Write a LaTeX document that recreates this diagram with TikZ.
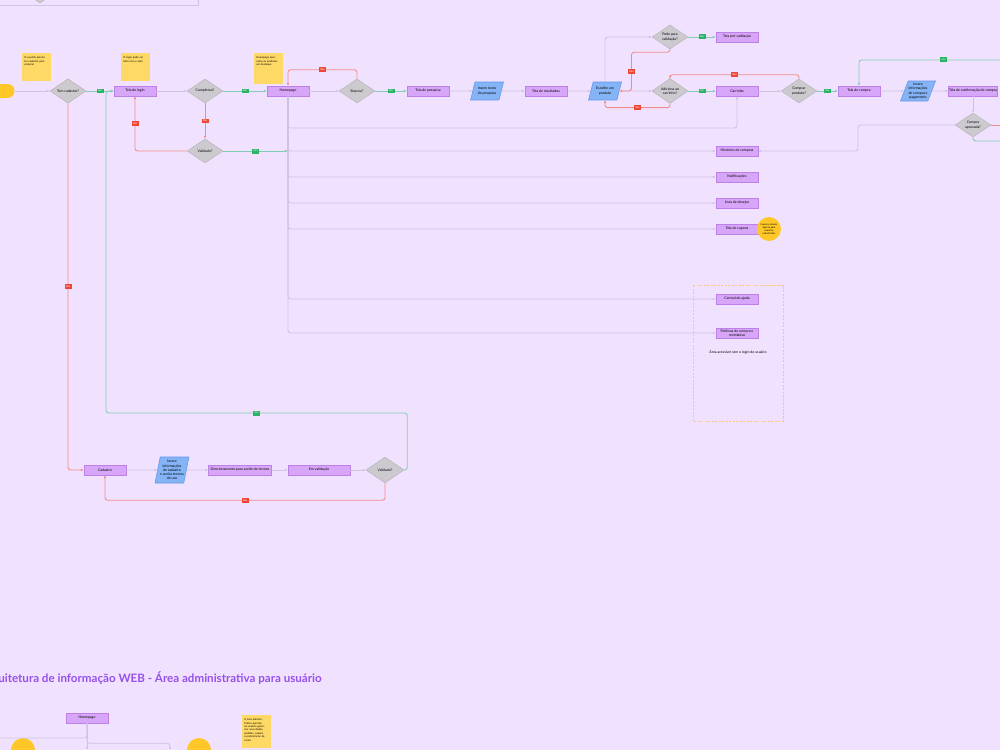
\documentclass[tikz,border=0pt]{standalone}
\usepackage{fontspec}
\setmainfont{Lato}
\usetikzlibrary{arrows.meta,shapes.geometric}
\definecolor{bgviolet}{RGB}{240,226,254}
\definecolor{boxviolet}{RGB}{216,166,248}
\definecolor{boxedge}{RGB}{188,128,232}
\definecolor{diagray}{RGB}{204,202,206}
\definecolor{diaedge}{RGB}{184,182,188}
\definecolor{inblue}{RGB}{132,180,246}
\definecolor{inedge}{RGB}{98,148,232}
\definecolor{noteyellow}{RGB}{255,217,102}
\definecolor{dotyellow}{RGB}{255,200,40}
\definecolor{linegray}{RGB}{204,196,224}
\definecolor{okgreen}{RGB}{40,180,100}
\definecolor{okline}{RGB}{130,205,180}
\definecolor{nored}{RGB}{238,70,50}
\definecolor{noline}{RGB}{240,140,140}
\definecolor{framegold}{RGB}{250,200,130}
\definecolor{titlepurple}{RGB}{150,80,235}
\newcommand{\boxfont}{\fontsize{2}{2.4}\selectfont}
\newcommand{\tagfont}{\fontsize{1.4}{1.7}\selectfont}

\begin{document}
\begin{tikzpicture}[x=0.02cm,y=-0.02cm,
    screen/.style={draw=boxedge,fill=boxviolet,line width=0.3pt,minimum width=0.84cm,minimum height=0.2cm,inner sep=0.4pt,align=center,font=\boxfont},
    ask/.style={diamond,draw=diaedge,fill=diagray,line width=0.3pt,minimum width=0.72cm,minimum height=0.48cm,inner sep=0pt,align=center,font=\boxfont},
    entry/.style={trapezium,trapezium left angle=65,trapezium right angle=115,trapezium stretches=true,draw=inedge,fill=inblue,line width=0.3pt,minimum width=0.66cm,minimum height=0.36cm,inner sep=0pt,align=center,font=\boxfont},
    terminal/.style={fill=dotyellow,rounded corners=0.14cm,minimum width=0.5cm,minimum height=0.28cm,font=\boxfont},
    sticky/.style={fill=noteyellow,anchor=north west,text width=0.48cm,text height=2pt,text depth=0.39cm,inner sep=1.2pt,align=left,font=\fontsize{1.5}{1.9}\selectfont},
    hint/.style={circle,fill=dotyellow,minimum size=0.48cm,inner sep=0pt,align=center,font=\fontsize{1.4}{1.7}\selectfont},
    link/.style={draw=linegray,line width=0.5pt,rounded corners=1.5pt,-{Latex[length=1.6pt,width=1.5pt]}},
    yeslink/.style={link,draw=okline},
    nolink/.style={link,draw=noline},
    sim/.style={sharp corners,fill=okgreen,text=white,minimum width=0.14cm,minimum height=0.1cm,inner sep=0pt,font=\tagfont},
    nao/.style={sim,fill=nored}]
  \fill[bgviolet] (0,0) rectangle (1000,750);
  \useasboundingbox (0,0) rectangle (1000,750);

  % resto do quadro de cima
  \node[ask] (topask) at (40,-9) {};
  \draw[linegray,line width=0.5pt] (-5,5) -- (198,5) -- (198,-5);

  % fluxo principal
  \node[terminal] (begin) at (2,91) {};
  \node[ask] (hascad) at (68,91) {Tem cadastro?};
  \node[screen] (login) at (135,91) {Tela de login};
  \node[ask] (done) at (205,91) {Completou?};
  \node[ask] (valid1) at (205,151) {Validado?};
  \node[screen] (home) at (288,91) {Homepage};
  \node[ask] (search) at (357,91) {Buscou?};
  \node[screen] (searchpage) at (428,91) {Tela de pesquisa};
  \node[entry] (query) at (487,91) {Insere texto\\de pesquisa};
  \node[screen] (results) at (546,91) {Tela de resultados};
  \node[entry] (pick) at (605,91) {Escolhe um\\produto};
  \node[ask] (val) at (670,37) {Pode para\\validação?};
  \node[screen] (prevalid) at (737,37) {Tela pré-validação};
  \node[ask] (addcart) at (670,91) {Adiciona ao\\carrinho?};
  \node[screen] (cart) at (737,91) {Carrinho};
  \node[ask] (buy) at (799,91) {Comprar\\produto?};
  \node[screen] (buypage) at (859,91) {Tela de compra};
  \node[entry,minimum width=0.7cm,minimum height=0.4cm] (paydata) at (918,91) {Insere\\informações\\de compra e\\pagamento};
  \node[screen,minimum width=0.94cm] (confirm) at (973,91) {Tela de confirmação de compra};
  \node[ask] (okbuy) at (973,125) {Compra\\aprovada?};

  % notas
  \node[sticky] (note1) at (22,53) {O usuário precisa ter cadastro para comprar};
  \node[sticky] (note2) at (121,53) {O login pode ser feito com e-mail};
  \node[sticky,text depth=0.45cm] (note3) at (254,53) {Homepage apresenta os produtos em destaque};

  % telas ligadas a homepage
  \foreach \name/\y/\txt in {hist/151/Histórico de compras,notif/177/Notificações,wish/203/Lista de desejos,coupons/229/Tela de cupons,help/299/Central de ajuda}
    \node[screen] (\name) at (737,\y) {\txt};
  \node[screen] (policy) at (737,333) {Políticas de compra e\\reembolso};
  \node[hint] (couponnote) at (769,229) {Cupons visíveis\\apenas para\\usuários\\cadastrados};
  \draw[framegold,dash pattern=on 1.2pt off 0.8pt,line width=0.4pt] (693,285) rectangle (783,421);
  \node[font=\boxfont] (openarea) at (738,352) {Área acessível sem o login do usuário};

  % cadastro
  \node[screen] (cad) at (105,470) {Cadastro};
  \node[entry,trapezium left angle=75,trapezium right angle=105,minimum height=0.52cm] (signup) at (172,470) {Insere\\informações\\de cadastro\\e aceita termos\\de uso};
  \node[screen,minimum width=1.26cm] (terms) at (240,470) {Direcionamento para aceite de termos};
  \node[screen,minimum width=1.24cm] (pending) at (319,470) {Em validação};
  \node[ask,minimum width=0.76cm,minimum height=0.52cm] (valid2) at (385,470) {Validado?};

  \coordinate (cartlow) at (737,128);
  \coordinate (histturn) at (858,151);
  \coordinate (okloop) at (1010,60);
  \coordinate (noout) at (1010,125);
  \coordinate (yesout) at (1010,141);
  \coordinate (loopup) at (106,413);

  \draw[link] (begin.east) -- (hascad.west);
  \draw[yeslink] (hascad.east) -- node[sim]{Sim} (login.west);
  \draw[nolink] (hascad.south) |- node[nao,pos=0.25]{Não} (cad.west);
  \draw[link] (login.east) -- (done.west);
  \draw[yeslink] (done.east) -- node[sim]{Sim} (home.west);
  \draw[nolink] (done.south) -- node[nao]{Não} (valid1.north);
  \draw[nolink] (valid1.west) -| node[nao,pos=0.75]{Não} (login.south);
  \draw[yeslink] (valid1.east) -- node[sim]{Sim} (home.south |- valid1.east);
  \draw[link] (home.east) -- (search.west);
  \draw[nolink] (search.north) -- ++(0,-9) -| node[nao,pos=0.25]{Não} (home.north);
  \draw[yeslink] (search.east) -- node[sim]{Sim} (searchpage.west);
  \draw[link] (searchpage.east) -- (query.west);
  \draw[link] (query.east) -- (results.west);
  \draw[link] (results.east) -- (pick.west);
  \draw[link] (pick.north) |- (val.west);
  \draw[link] (pick.east) -- (addcart.west);
  \draw[nolink] (val.south) -- ++(0,3) -| node[nao,pos=0.75]{Não} ([xshift=0.24cm]pick.east) -- (pick.east);
  \draw[yeslink] (val.east) -- node[sim]{Sim} (prevalid.west);
  \draw[yeslink] (addcart.east) -- node[sim]{Sim} (cart.west);
  \draw[nolink] (addcart.south) -- ++(0,4) -| node[nao,pos=0.25]{Não} (pick.south);
  \draw[link] (cart.east) -- (buy.west);
  \draw[nolink] (buy.north) -- ++(0,-4) -| node[nao,pos=0.25]{Não} (addcart.north);
  \draw[yeslink] (buy.east) -- node[sim]{Sim} (buypage.west);
  \draw[link] (buypage.east) -- (paydata.west);
  \draw[link] (paydata.east) -- (confirm.west);
  \draw[link] (confirm.south) -- (okbuy.north);
  \draw[link] (okbuy.west) -| (histturn) -- (hist.east);
  \draw[yeslink] (okloop) -| node[sim,pos=0.22]{Sim} (buypage.north);
  \draw[nolink,-] (okbuy.east) -- (noout);
  \draw[yeslink,-] (okbuy.south) |- (yesout);
  \draw[link] (home.south) |- (cartlow) -- (cart.south);
  \foreach \name in {hist,notif,wish,coupons,help,policy}
    \draw[link] (home.south) |- (\name.west);

  \draw[link] (cad.east) -- (signup.west);
  \draw[link] (signup.east) -- (terms.west);
  \draw[link] (terms.east) -- (pending.west);
  \draw[link] (pending.east) -- (valid2.west);
  \draw[yeslink] (valid2.east) -- ++(3,0) |- node[sim,pos=0.75]{Sim} (loopup) |- (login.west);
  \draw[nolink] (valid2.south) -- ++(0,17) -| node[nao,pos=0.25]{Não} (cad.south);

  % area administrativa
  \node[anchor=east,inner sep=0pt,text=titlepurple,font=\fontsize{6.6}{8}\selectfont\bfseries] (title) at (322,678) {Arquitetura de informação WEB - Área administrativa para usuário};
  \node[screen] (home2) at (87,718) {Homepage};
  \node[screen] (sub1) at (87,755) {};
  \node[screen] (sub2) at (170,755) {};
  \node[hint] (hint2) at (23,750) {};
  \node[hint] (hint3) at (199,750) {};
  \node[sticky,text depth=0.5cm] (note4) at (242,715) {A área administrativa permite ao usuário gerenciar seus dados, pedidos, cupons e preferências de conta};
  \coordinate (leftout) at (-10,738);
  \draw[link,-] (home2.south) |- (leftout);
  \draw[link] (home2.south) -- (sub1.north);
  \draw[link] (home2.south) -- ++(0,20) -| (sub2.north);
\end{tikzpicture}
\end{document}
